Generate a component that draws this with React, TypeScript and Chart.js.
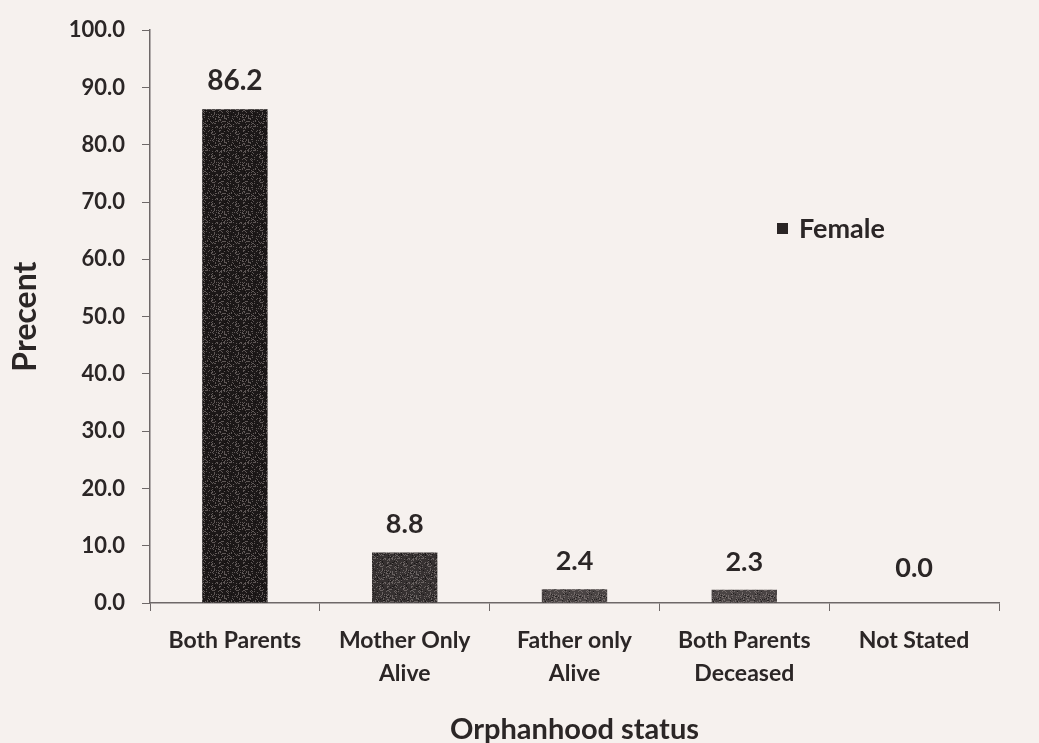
import React, { useEffect, useRef } from "react";
import { Chart, registerables } from "chart.js";

Chart.register(...registerables);

const categories: string[][] = [
  ["Both Parents"],
  ["Mother Only", "Alive"],
  ["Father only", "Alive"],
  ["Both Parents", "Deceased"],
  ["Not Stated"],
];
const femaleValues: number[] = [86.2, 8.8, 2.4, 2.3, 0.0];
const seriesLabel = "Female";
const yTitle = "Precent";
const xTitle = "Orphanhood status";

const barBase = ["#1c1818", "#363131", "#4a4444", "#4a4444", "#4a4444"];
const FONT = "Lato, 'Open Sans', sans-serif";
const TEXT = "#2b2626";
const BG = "#f6f1ee";
const AXIS = "#6e6868";

function hash(i: number, j: number): number {
  const s = Math.sin(i * 127.1 + j * 311.7) * 43758.5453;
  return s - Math.floor(s);
}

function makePattern(base: string): CanvasPattern | string {
  const c = document.createElement("canvas");
  c.width = 24;
  c.height = 24;
  const g = c.getContext("2d");
  if (!g) return base;
  g.fillStyle = base;
  g.fillRect(0, 0, 24, 24);
  for (let i = 0; i < 24; i++) {
    for (let j = 0; j < 24; j++) {
      const h = hash(i, j);
      if (h > 0.8) {
        g.fillStyle = "rgba(150,140,138,0.55)";
        g.fillRect(i, j, 1, 1);
      } else if (h < 0.1) {
        g.fillStyle = "rgba(10,8,8,0.6)";
        g.fillRect(i, j, 1, 1);
      }
    }
  }
  return g.createPattern(c, "repeat") || base;
}

const bgPlugin = {
  id: "bg",
  beforeDraw(chart: any) {
    const { ctx, width, height } = chart;
    ctx.save();
    ctx.fillStyle = BG;
    ctx.fillRect(0, 0, width, height);
    ctx.restore();
  },
};

const labelPlugin = {
  id: "valueLabels",
  afterDatasetsDraw(chart: any) {
    const { ctx } = chart;
    const meta = chart.getDatasetMeta(0);
    const data = chart.data.datasets[0].data as number[];
    ctx.save();
    ctx.fillStyle = TEXT;
    ctx.textAlign = "center";
    ctx.textBaseline = "middle";
    meta.data.forEach((bar: any, i: number) => {
      const v = data[i];
      ctx.font = `bold ${i === 0 ? 28 : 27}px ${FONT}`;
      const off = v === 0 ? 35 : 28;
      ctx.fillText(v.toFixed(1), bar.x, bar.y - off);
    });
    ctx.restore();
  },
};

const legendPlugin = {
  id: "customLegend",
  afterDraw(chart: any) {
    const { ctx } = chart;
    const x = 777;
    const y = 229;
    ctx.save();
    ctx.fillStyle = "#2a2525";
    ctx.fillRect(x, y - 6, 11, 11);
    ctx.fillStyle = TEXT;
    ctx.font = `bold 27px ${FONT}`;
    ctx.textAlign = "left";
    ctx.textBaseline = "middle";
    ctx.fillText(chart.data.datasets[0].label, x + 22, y);
    ctx.restore();
  },
};

export default function App() {
  const ref = useRef<HTMLCanvasElement | null>(null);

  useEffect(() => {
    document.body.style.margin = "0";
    document.body.style.background = BG;
    const canvas = ref.current;
    if (!canvas) return;
    const chart = new Chart(canvas, {
      type: "bar",
      data: {
        labels: categories,
        datasets: [
          {
            label: seriesLabel,
            data: femaleValues,
            backgroundColor: barBase.map((b) => makePattern(b)),
            borderWidth: 0,
            categoryPercentage: 1,
            barPercentage: 0.385,
          },
        ],
      },
      options: {
        responsive: false,
        animation: false,
        layout: { padding: { top: 28, right: 40, left: 0, bottom: 0 } },
        plugins: {
          legend: { display: false },
          tooltip: { enabled: false },
        },
        scales: {
          x: {
            grid: {
              display: true,
              drawOnChartArea: false,
              drawTicks: true,
              tickLength: 8,
              color: AXIS,
              offset: true,
            },
            border: { color: AXIS, width: 1.5 },
            ticks: {
              color: TEXT,
              font: { family: FONT, size: 23, weight: "bold", lineHeight: 1.43 },
              maxRotation: 0,
              autoSkip: false,
              padding: 13,
            },
            title: {
              display: true,
              text: xTitle,
              color: TEXT,
              font: { family: FONT, size: 29, weight: "bold" },
              padding: { top: 4, bottom: -4 },
            },
            afterFit(scale: any) {
              scale.height = 140;
            },
          },
          y: {
            min: 0,
            max: 100,
            ticks: {
              stepSize: 10,
              color: TEXT,
              font: { family: FONT, size: 22, weight: "bold" },
              callback: (v: any) => Number(v).toFixed(1),
              padding: 17,
            },
            grid: {
              display: true,
              drawOnChartArea: false,
              drawTicks: true,
              tickLength: 8,
              color: AXIS,
            },
            border: { color: AXIS, width: 1.5 },
            title: {
              display: true,
              text: yTitle,
              color: TEXT,
              font: { family: FONT, size: 32, weight: "bold" },
              padding: { top: 6, bottom: 10 },
            },
            afterFit(scale: any) {
              scale.width = 150;
            },
          },
        },
      },
      plugins: [bgPlugin, labelPlugin, legendPlugin],
    });
    return () => chart.destroy();
  }, []);

  return (
    <div style={{ position: "absolute", left: 0, top: 0, width: 1039, height: 743 }}>
      <canvas ref={ref} width={1039} height={743} style={{ width: 1039, height: 743 }} />
    </div>
  );
}
